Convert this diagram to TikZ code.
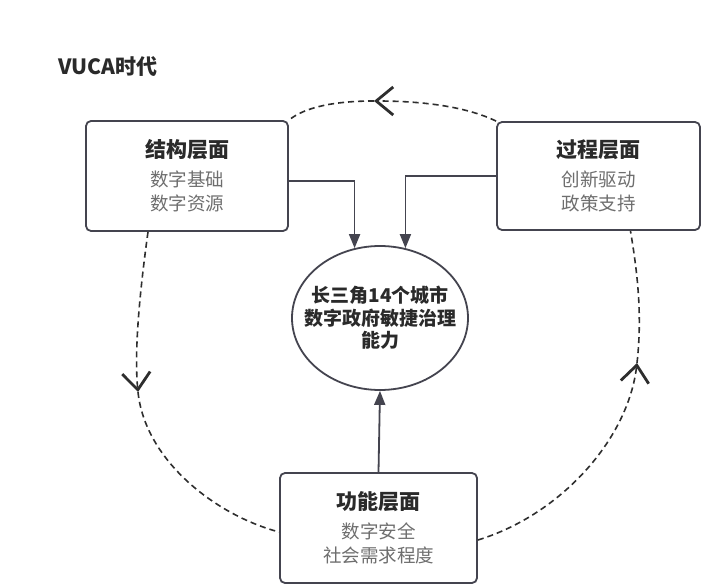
\documentclass[tikz,border=0pt]{standalone}
\usepackage{fontspec}
\setmainfont{Noto Sans CJK SC}
\usetikzlibrary{arrows.meta,shapes.geometric}
\definecolor{boxc}{HTML}{44444F}
\definecolor{titc}{HTML}{2A2A2A}
\definecolor{subc}{HTML}{6E6E6E}
\definecolor{linec}{HTML}{2E2E2E}
\begin{document}
\begin{tikzpicture}[x=1pt,y=-1pt,
  layerbox/.style={draw=boxc, line width=1.8pt, rounded corners=5pt, inner sep=0pt,
    align=center, text=subc, font=\fontsize{18.5}{24}\selectfont},
  hub/.style={ellipse, draw=boxc, line width=1.8pt, inner xsep=-14pt, inner ysep=0pt, align=center,
    text=titc, font=\fontsize{19}{22.5}\selectfont\bfseries},
  cycleline/.style={draw=linec, line width=1.6pt, dash pattern=on 6pt off 4pt},
  chev/.style={-{Straight Barb[length=17pt, width=28pt, line width=2.8pt]}},
  feed/.style={draw=boxc, line width=1.8pt, -{Triangle[length=14pt, width=11pt]}}]
\fill[white] (0,0) rectangle (701,585);
\useasboundingbox (0,0) rectangle (701,585);

\node[anchor=west, text=titc, font=\fontsize{21}{21}\selectfont\bfseries] (title) at (55,67) {VUCA时代};

\node[layerbox, minimum width=202pt, minimum height=110pt] (b1) at (187,176)
  {{\fontsize{21}{24}\selectfont\bfseries\color{titc}结构层面}\\[5pt]数字基础\\数字资源};
\node[layerbox, minimum width=203pt, minimum height=108pt] (b2) at (598.5,176)
  {{\fontsize{21}{24}\selectfont\bfseries\color{titc}过程层面}\\[5pt]创新驱动\\政策支持};
\node[layerbox, minimum width=197pt, minimum height=110pt] (b3) at (378.5,528)
  {{\fontsize{21}{24}\selectfont\bfseries\color{titc}功能层面}\\[5pt]数字安全\\社会需求程度};
\node[hub, minimum width=176pt, minimum height=144pt] (hub) at (380,318)
  {长三角14个城市\\数字政府敏捷治理\\能力};

\coordinate (atop) at (374,101);
\coordinate (aleft) at (138,392);
\coordinate (aright) at (637,363);

% dashed cycle
\draw[cycleline, chev] (b2.north west) .. controls (465,106) and (420,101) .. (atop);
\draw[cycleline] (atop) .. controls (335,101) and (305,107) .. (b1.north east);
\draw[cycleline, chev] ([xshift=-39pt]b1.south) .. controls (140,290) and (134,350) .. (aleft);
\draw[cycleline] (aleft) .. controls (145,460) and (215,515) .. ([yshift=-4pt]b3.west);
\draw[cycleline, chev] ([yshift=-12pt]b3.east) .. controls (560,515) and (628,440) .. (aright);
\draw[cycleline] (aright) .. controls (643,310) and (636,265) .. ([xshift=32pt]b2.south);

% feeding arrows
\draw[feed] ([yshift=-5pt]b1.east) -| (hub.110);
\draw[feed] (b2.west) -| (hub.70);
\draw[feed] (b3.north) -- (hub.south);
\end{tikzpicture}
\end{document}
